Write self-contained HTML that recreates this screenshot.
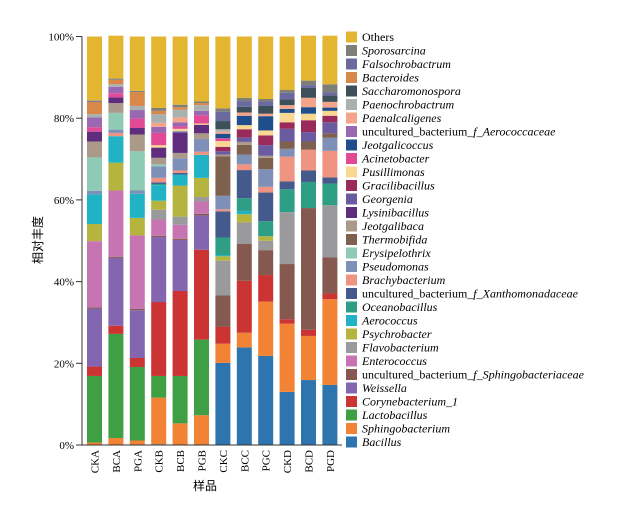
<!DOCTYPE html>
<html><head><meta charset="utf-8"><style>
html,body{margin:0;padding:0;background:#fff;}
svg{display:block;font-family:"Liberation Serif","Noto Serif CJK SC",serif;}
</style></head><body>
<svg id="chart" width="623" height="508" viewBox="0 0 623 508">
<g id="bars"></g>
<g id="axes"></g>
<g id="legend"></g>
<text x="205" y="490" font-size="12" text-anchor="middle" font-family="Noto Sans CJK SC, sans-serif">样品</text>
<text x="0" y="0" font-size="12" text-anchor="middle" font-family="Noto Sans CJK SC, sans-serif" transform="translate(42,240) rotate(-90)">相对丰度</text>
</svg>
<script>
const categories = ["CKA","BCA","PGA","CKB","BCB","PGB","CKC","BCC","PGC","CKD","BCD","PGD"];
const yTicks = [0,20,40,60,80,100];
const seriesNames = ["Bacillus","Sphingobacterium","Lactobacillus","Corynebacterium_1","Weissella","uncultured_bacterium_f_Sphingobacteriaceae","Enterococcus","Flavobacterium","Psychrobacter","Aerococcus","Oceanobacillus","uncultured_bacterium_f_Xanthomonadaceae","Brachybacterium","Pseudomonas","Erysipelothrix","Thermobifida","Jeotgalibaca","Lysinibacillus","Georgenia","Gracilibacillus","Pusillimonas","Acinetobacter","Jeotgalicoccus","uncultured_bacterium_f_Aerococcaceae","Paenalcaligenes","Paenochrobactrum","Saccharomonospora","Bacteroides","Falsochrobactrum","Sporosarcina","Others"];
const seriesColors = ["#2e75b0","#f28234","#3f9f45","#cc3333","#8466b0","#855850","#c774b2","#9a9a9c","#b4b43e","#21b2c6","#2e9e84","#455a8c","#ef9482","#7f90b8","#8ecab4","#7e604e","#ab9a8a","#5e2d7e","#6a5ba0","#9a2a5a","#f8d890","#e24a96","#1e4f8c","#9a68b0","#f5a48c","#a8b0b0","#3d4f58","#d88848","#6a6aa0","#7f7f7a","#e3b531"];
const bacillus = [0,0,0,0.2,0,0,20.1,23.9,21.8,13,15.9,14.7];
const sphingobacterium = [0.6,1.7,1.1,11.4,5.3,7.3,4.7,3.6,13.3,16.7,10.8,21];
const lactobacillus = [16.3,25.5,18,5.3,11.6,18.5,0,0,0,0,0,0];
const corynebacterium = [2.3,2,2.2,18.1,20.8,22,4.1,12.7,6.5,1.1,1.5,1.4];
const weissella = [14.2,16.6,11.7,15.9,12.5,8.4,0,0,0,0,0,0];
const uncSphingo = [0.3,0.3,0.3,0.3,0.3,0.4,7.7,9,6.1,13.5,29.8,8.8];
const enterococcus = [16.2,16.2,18,4,3.4,3,0,0,0,0,0,0];
const flavobacterium = [0,0,0,2.4,2,1.1,8.5,5.3,2.3,12.7,0,12.8];
const psychrobacter = [4.2,6.8,4.3,2.2,7.6,4.7,1.1,2,1.1,0,0,0];
const aerococcus = [7.3,6.5,5.9,3.8,2.7,5.6,0.3,0.8,0,0,0,0];
const oceanobacillus = [0,0,0,0.3,0,0,4.3,3.1,3.7,5.6,6.4,5.3];
const uncXantho = [0,0,0,0.4,0.4,0,6.4,6.9,7,1.9,2.8,1.5];
const brachybacterium = [0,0.8,0,1.1,0.6,0.8,0.5,1.4,1.4,6.1,5.1,6.5];
const pseudomonas = [0.8,0.8,0.8,2.8,3,3.1,3.3,2.4,4.3,1.9,0,3.2];
const erysipelothrix = [8.2,4.1,9.6,0.5,0,0,0,0,0,0,0,0];
const thermobifida = [0,0,0,0,0,0,9.7,2.4,2.8,1.8,2,1.1];
const jeotgalibaca = [3.9,2.4,4.1,1.6,1.3,1.4,0.4,0.7,0.5,0,0,0];
const lysinibacillus = [2.4,1.4,1.6,2.5,4.9,2.1,0,0,0,0,0,0];
const georgenia = [0,0,0,0,0.4,0,0.8,1.1,2.6,3.1,2.3,2.7];
const gracilibacillus = [0,0,0,0,0,0,1.1,2,2.4,1.6,2.9,1.6];
const pusillimonas = [0,0,0,0.6,0.6,0.3,1.4,1,1.2,2.3,1.6,1.2];
const acinetobacter = [1.1,1,2.3,3,0.6,2,0.7,0,0,0,0,0];
const jeotgalicoccus = [0,0,0,0,0,0,1.1,2.3,3.5,1,1.6,0.8];
const uncAerococ = [2.4,1.6,2.1,1.5,1,1.1,0,0,0,0,0,0];
const paenalcaligenes = [0,0,0,1,1.2,0,0.5,0.8,0.6,0.9,2.3,1.4];
const paenochrobactrum = [0.8,0.6,1,2.1,1.9,1.4,0.6,0,0,0,0,0];
const saccharomonospora = [0,0,0,0,0,0,2,1.4,1.9,1.4,2.4,1.6];
const bacteroides = [3,1.1,3.4,0.8,0.6,0.5,0,0,0,0,0,0];
const falsochrobactrum = [0.3,0,0,0,0,0,2.3,1.4,1.1,1.6,0.7,0.7];
const sporosarcina = [0,0.3,0.3,0.7,0.6,0.4,0.8,0.8,0.6,0.7,1.1,2];
const others = [15.7,10.5,13.3,17.5,16.7,15.9,17.6,15,15.3,13.1,11,11.9];
const seriesValues = [bacillus,sphingobacterium,lactobacillus,corynebacterium,weissella,uncSphingo,enterococcus,flavobacterium,psychrobacter,aerococcus,oceanobacillus,uncXantho,brachybacterium,pseudomonas,erysipelothrix,thermobifida,jeotgalibaca,lysinibacillus,georgenia,gracilibacillus,pusillimonas,acinetobacter,jeotgalicoccus,uncAerococ,paenalcaligenes,paenochrobactrum,saccharomonospora,bacteroides,falsochrobactrum,sporosarcina,others];

const NS="http://www.w3.org/2000/svg";
const Y0=445, Y100=36.5, X0=87, PITCH=21.4, BW=15;
function yS(v){return Y0-(Y0-Y100)*v/100;}
function xScale(i){return X0+i*PITCH;}
function mk(tag,attrs,parent){const e=document.createElementNS(NS,tag);for(const k in attrs)e.setAttribute(k,attrs[k]);parent.appendChild(e);return e;}
const gb=document.getElementById('bars');
categories.forEach((c,i)=>{
  let acc=0;
  seriesValues.forEach((arr,s)=>{
    const v=arr[i]; if(v<=0)return;
    const r=mk('rect',{x:xScale(i),y:yS(acc+v),width:BW,height:yS(acc)-yS(acc+v),fill:seriesColors[s]},gb);
    
    
    acc+=v;
  });
});
const ga=document.getElementById('axes');
const yl=mk('line',{x1:82,y1:Y100,x2:82,y2:Y0,stroke:'#333','stroke-width':1},ga);


const xl=mk('line',{x1:82,y1:Y0,x2:342,y2:Y0,stroke:'#333','stroke-width':1},ga);


yTicks.forEach(t=>{
  const tk=mk('line',{x1:76,y1:yS(t),x2:82,y2:yS(t),stroke:'#333','stroke-width':1},ga);
  
  
  const tx=mk('text',{x:74,y:yS(t)+4,'font-size':11,'text-anchor':'end'},ga);
  tx.textContent=t+'%';
  
  
});
categories.forEach((c,i)=>{
  const cx=xScale(i)+BW/2+4;
  const tx=mk('text',{x:0,y:0,'font-size':11,'text-anchor':'end',transform:'translate('+cx+',450) rotate(-90)'},ga);
  tx.textContent=c;
  
  
});
const gl=document.getElementById('legend');
const n=seriesNames.length;
for(let k=0;k<n;k++){
  const s=n-1-k;
  const yc=37+k*13.5;
  const g=mk('g',{},gl);
  
  
  mk('rect',{x:346,y:yc-5.5,width:11,height:11,fill:seriesColors[s]},g);
  const tx=mk('text',{x:362,y:yc+4,'font-size':12},g);
  const nm=seriesNames[s];
  if(nm==='Others'){tx.textContent=nm;}
  else if(nm.startsWith('uncultured')){
    const parts=nm.split('_f_');
    const a=mk('tspan',{},tx);a.textContent=parts[0];
    const b=mk('tspan',{'font-style':'italic'},tx);b.textContent='_f_'+parts[1];
  } else {tx.setAttribute('font-style','italic');tx.textContent=nm;}
}
</script>
</body></html>
